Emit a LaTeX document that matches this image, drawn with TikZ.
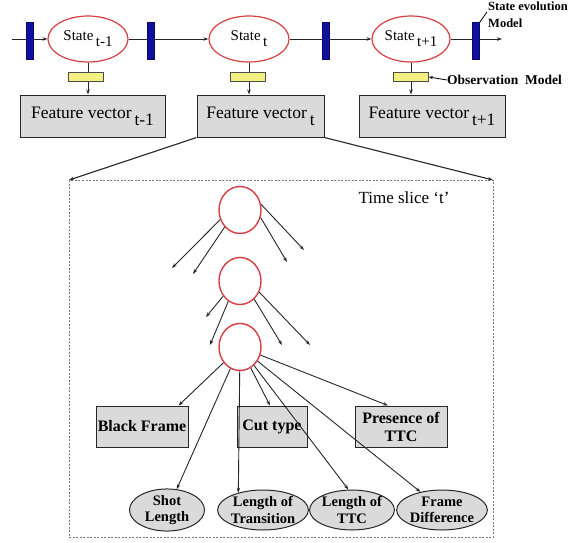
\documentclass[tikz,border=0pt]{standalone}
\usepackage{fontspec}
\setmainfont{Liberation Serif}
\usetikzlibrary{arrows.meta,shapes.geometric}

\definecolor{ringred}{RGB}{214,62,66}
\definecolor{barblue}{RGB}{16,16,160}
\definecolor{baryellow}{RGB}{244,240,130}
\definecolor{boxgray}{RGB}{218,218,218}
\definecolor{slicegray}{RGB}{120,120,120}

\newcommand{\lowsub}[2][6pt]{\,\raisebox{-#1}{#2}}

\begin{document}
\begin{tikzpicture}[x=1pt,y=-1pt,
  stateell/.style={ellipse, draw=ringred, line width=1.2pt, fill=white,
    minimum width=80pt, minimum height=46pt, inner sep=0pt,
    font=\fontsize{15}{17}\selectfont},
  bluebar/.style={rectangle, fill=barblue, draw=barblue!60!black,
    minimum width=7pt, minimum height=37pt, inner sep=0pt},
  yellowbar/.style={rectangle, fill=baryellow, draw=black!70, line width=0.6pt,
    minimum width=35pt, minimum height=9pt, inner sep=0pt},
  fvbox/.style={rectangle, draw=black!85, line width=1pt, fill=boxgray,
    minimum height=42pt, inner sep=0pt, font=\fontsize{17.5}{20}\selectfont},
  nodering/.style={ellipse, draw=ringred, line width=1.4pt,
    minimum width=42pt, minimum height=47pt, inner sep=0pt},
  featbox/.style={rectangle, draw=black!85, line width=1pt, fill=boxgray,
    minimum height=41pt, inner sep=0pt, align=center,
    font=\bfseries\fontsize{16}{18}\selectfont},
  featell/.style={ellipse, draw=black!85, line width=1pt, fill=boxgray,
    minimum height=40pt, inner sep=0pt, align=center,
    font=\bfseries\fontsize{14.5}{16.5}\selectfont},
  arr/.style={-{Stealth[length=5pt,width=3.5pt]}, line width=0.9pt, draw=black!85},
  tag/.style={inner sep=0pt, align=left, font=\bfseries\fontsize{12.5}{17}\selectfont},
  slice/.style={draw=slicegray, line width=0.8pt, dash pattern=on 2pt off 1.5pt}
]
\useasboundingbox (0,0) rectangle (574,542);

% ---- chain of states ----
\node[stateell] (s1) at (88,39)  {State\lowsub{t-1}};
\node[stateell] (s2) at (249,39) {State\lowsub{t}};
\node[stateell, minimum width=78pt] (s3) at (411,39) {State\lowsub{t+1}};

\coordinate (chainin)  at (12,39);
\coordinate (chainout) at (502,39);

\node[fvbox, minimum width=145pt] (fv1) at (92.5,116) {Feature vector\lowsub[7pt]{t-1}};
\node[fvbox, minimum width=127pt] (fv2) at (260.5,116) {Feature vector\lowsub[7pt]{t}};
\node[fvbox, minimum width=146pt] (fv3) at (432,116) {Feature vector\lowsub[7pt]{t+1}};

\draw[arr] (chainin) -- (s1);
\draw[arr] (s1) -- (s2);
\draw[arr] (s2) -- (s3);
\draw[arr] (s3) -- (chainout);

\draw[arr] (s1.south) -- (s1.south |- fv1.north);
\draw[arr] (s2.south) -- (s2.south |- fv2.north);
\draw[arr] (s3.south) -- (s3.south |- fv3.north);

% transition and observation blocks
\node[bluebar] (b1) at (30,41)  {};
\node[bluebar] (b2) at (151,41) {};
\node[bluebar] (b3) at (326,41) {};
\node[bluebar] (b4) at (476,41) {};

\node[yellowbar] (y1) at (86,77)  {};
\node[yellowbar] (y2) at (248,77) {};
\node[yellowbar] (y3) at (411,77) {};

% model labels
\node[tag, anchor=north west] (sev) at (488,2) {State evolution\\Model};
\coordinate (sevtip) at (487,12);
\draw[line width=0.8pt] (b4.north east) -- (sevtip);

\node[tag, anchor=west, font=\bfseries\fontsize{13.5}{16}\selectfont] (obs) at (447,80) {Observation\ \ Model};
\draw[-{Stealth[length=4pt,width=3pt]}, line width=0.8pt] (obs.west) -- (y3.east);

% ---- expanded time slice ----
\coordinate (slTL) at (69,180);
\coordinate (slTR) at (493,180);
\draw[slice] (slTL) rectangle (493,537);
\draw[arr, line width=1.1pt] (fv2.south west) -- (slTL);
\draw[arr, line width=1.1pt] (fv2.south east) -- (slTR);

\node[font=\fontsize{17}{20}\selectfont, anchor=west] (tsl) at (355,198) {Time slice ‘t’};

\node[nodering] (c1) at (240,210) {};
\node[nodering] (c2) at (240,281) {};
\node[nodering] (c3) at (240,347) {};

% outgoing links of the upper hidden nodes
\coordinate (a1) at (172,268);
\coordinate (a2) at (193,274);
\coordinate (a3) at (304,250);
\coordinate (a4) at (287,262);
\draw[arr] (c1.206) -- (a1);
\draw[arr] (c1.228) -- (a2);
\draw[arr] (c1.15)  -- (a3);
\draw[arr] (c1.-20) -- (a4);

\coordinate (d1) at (206,317);
\coordinate (d2) at (210,345);
\coordinate (d3) at (310,345);
\coordinate (d4) at (282,345);
\draw[arr] (c2.222) -- (d1);
\draw[arr] (c2.240) -- (d2);
\draw[arr] (c2.-30) -- (d3);
\draw[arr] (c2.-52) -- (d4);

% observed features
\node[featbox, minimum width=92pt] (bf) at (142,426.5) {Black Frame};
\node[featbox, minimum width=70pt] (ct) at (272,426.5) {Cut type};
\node[featbox, minimum width=92pt] (pt) at (401,426.5) {Presence of\\TTC};

\node[featell, minimum width=75pt] (sl) at (167,510) {Shot\\Length};
\node[featell, minimum width=88pt] (lt) at (263,510) {Length of\\Transition};
\node[featell, minimum width=84pt] (lc) at (352,510) {Length of\\TTC};
\node[featell, minimum width=89pt] (fd) at (442,510) {Frame\\Difference};

\draw[arr] (c3) -- ([xshift=-10pt]bf.north east);
\draw[arr] (c3) -- ([xshift=-2pt]ct.north);
\draw[arr] (c3) -- ([xshift=-13pt]pt.north);
\draw[arr] (c3) -- (sl.65);
\draw[arr] (c3) -- (lt.145);
\draw[arr] (c3) -- (lc.100);
\draw[arr] (c3) -- (fd.140);
\end{tikzpicture}
\end{document}
